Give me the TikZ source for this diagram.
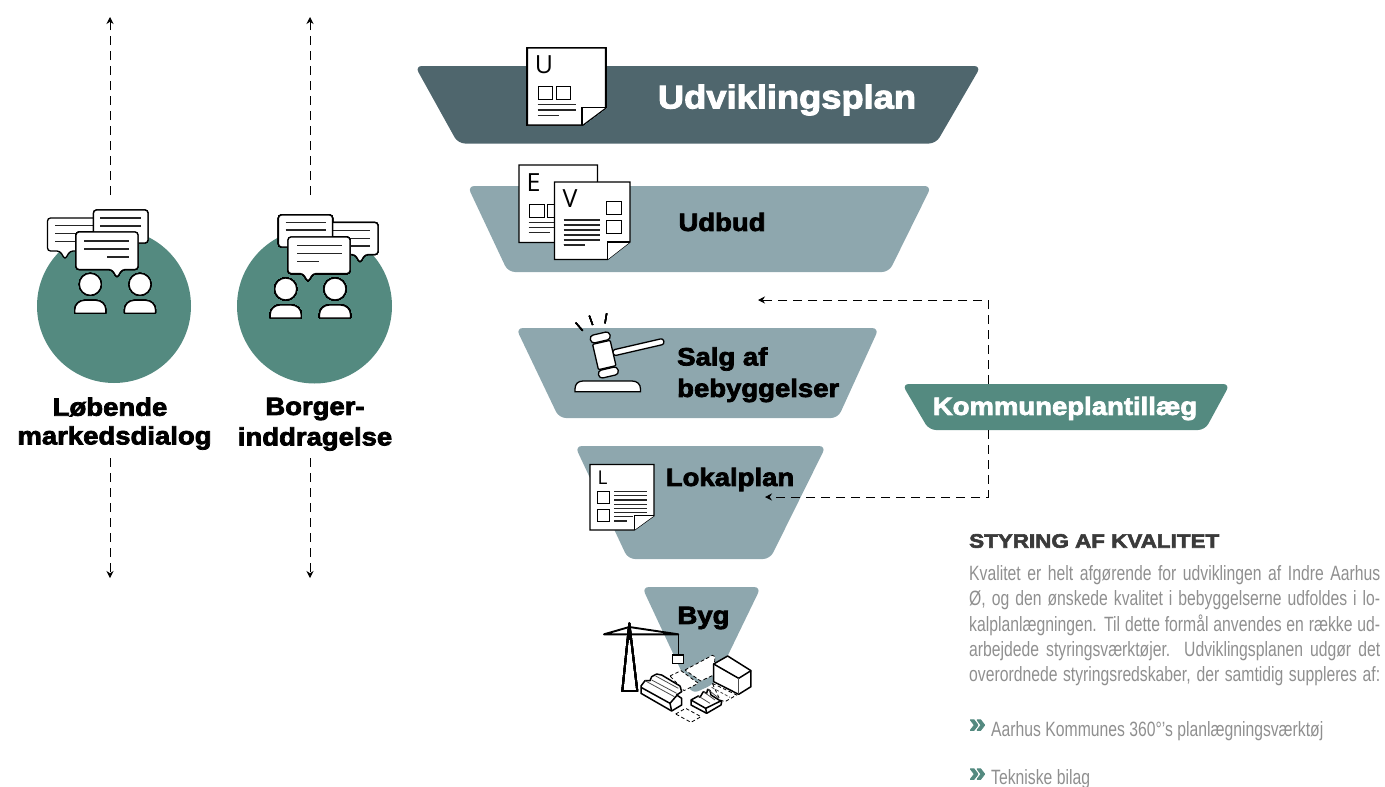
\documentclass[tikz,border=0pt]{standalone}
\usepackage{fontspec}
\usetikzlibrary{arrows.meta}
\setmainfont{Liberation Sans}
\newfontfamily\heavy[BoldFeatures={FakeBold=3,FakeStretch=1.1}]{Liberation Sans}
\newfontfamily\heavyw[BoldFeatures={FakeBold=3,FakeStretch=1.15}]{Liberation Sans}
\newfontfamily\narrowf[FakeStretch=0.76]{Liberation Sans}
\newfontfamily\docf{Open Sans}
\definecolor{darkslate}{HTML}{4F666D}
\definecolor{midslate}{HTML}{8EA7AE}
\definecolor{teal}{HTML}{548A80}
\definecolor{bodygrey}{HTML}{8F8F8F}
\definecolor{headgrey}{HTML}{3A3A3A}
\tikzset{
  funnel/.style={rounded corners=7pt,draw=none},
  label/.style={font=\heavy\bfseries\fontsize{25}{31}\selectfont,align=center,inner sep=0,text=black},
  bub/.style={draw=black,fill=white,line width=1.3pt,rounded corners=3pt},
  icon/.style={draw=black,fill=white,line width=1.3pt},
  iconline/.style={draw=black!85,line width=1.1pt},
  heavyline/.style={draw=black,line width=1.5pt,line join=round},
  thinline/.style={draw=black!70,line width=.8pt},
  link/.style={draw=black,line width=.8pt,dash pattern=on 9pt off 6pt,-{Stealth[length=7pt,width=7pt]}},
  parcel/.style={draw=black,fill=white,line width=.8pt,dash pattern=on 3.5pt off 2.5pt},
  docletter/.style={font=\docf,inner sep=0},
  bullet/.style={anchor=west,inner sep=0,text=teal,font=\heavy\bfseries\fontsize{27}{27}\selectfont},
  bodyline/.style={anchor=west,inner sep=0,text=bodygrey,font=\narrowf\fontsize{20.7}{24}\selectfont},
}
\newcommand\bubblebox[5]{\draw[bub] (#1,#2) -- (#3,#2) -- (#3,#4) -- ({#5+5},#4) -- ({#5},{#4+8.5}) -- ({#5-5},#4) -- (#1,#4) -- cycle;}
\newcommand\personicon[2]{\begin{scope}[shift={(#1,#2)}]
 \draw[icon] (0,0) circle (11);
 \draw[icon,rounded corners=.5pt] (-15.5,29) -- (-15.5,26) .. controls (-15.5,20) and (-11,16) .. (-5,16) -- (5,16) .. controls (11,16) and (15.5,20) .. (15.5,26) -- (15.5,29) -- cycle;
\end{scope}}
\newcommand\docicon[6]{\draw[icon] (#1,#2) -- (#3,#2) -- (#3,#6) -- (#5,#4) -- (#1,#4) -- cycle;
 \draw[icon] (#5,#4) -- (#5,#6) -- (#3,#6);}
\newcommand\hl[3]{\draw[iconline] (#1,#3) -- (#2,#3);}
\begin{document}
\begin{tikzpicture}[x=1pt,y=-1pt]
\useasboundingbox (0,0) rectangle (1385,787);
\clip (0,0) rectangle (1385,787);
% funnel shapes
\fill[funnel,darkslate] (415,66) -- (981,66) -- (936,143.5) -- (458,143.5) -- cycle;
\fill[funnel,midslate] (467.5,186) -- (931.5,186) -- (889,272) -- (508,272) -- cycle;
\fill[funnel,midslate] (516,328) -- (879,328) -- (838,418) -- (559,418) -- cycle;
\fill[funnel,midslate] (575,446) -- (826,446) -- (770,559) -- (628,559) -- cycle;
\fill[funnel,midslate] (642,587) -- (761,587) -- (714,684) -- (692,694) -- cycle;
\fill[funnel,teal] (902,384) -- (1230,384) -- (1205,430) -- (929,430) -- cycle;
% circles
\node[circle,fill=teal,minimum size=154pt,inner sep=0] (c1) at (114,306) {};
\node[circle,fill=teal,minimum size=155pt,inner sep=0] (c2) at (314.5,306) {};
% labels
\node[label] (lob) at (110,407) {Løbende};
\node[label] (mar) at (114.5,438) {markedsdialog};
\node[label] (bor) at (315,409) {Borger-};
\node[label] (ind) at (315,439) {inddragelse};
\node[label,text=white,font=\heavy\bfseries\fontsize{33}{36}\selectfont] (udv) at (787,100) {Udviklingsplan};
\node[label] (udb) at (722,222) {Udbud};
\node[label,anchor=west] (sal) at (677,359) {Salg af};
\node[label,anchor=west] (beb) at (677,390.5) {bebyggelser};
\node[label] (lok) at (730,479.5) {Lokalplan};
\node[label] (byg) at (703.5,618) {Byg};
\node[label,text=white] (kom) at (1065,408.5) {Kommuneplantillæg};
% vertical dashed arrows
\coordinate (a1t) at (110,195); \coordinate (a1e) at (110,17);
\coordinate (a1b) at (110,458); \coordinate (a1f) at (110,578);
\coordinate (a2t) at (310,195); \coordinate (a2e) at (310,17);
\coordinate (a2b) at (310,458); \coordinate (a2f) at (310,578);
\draw[link] (a1t) -- (a1e);
\draw[link] (a1b) -- (a1f);
\draw[link] (a2t) -- (a2e);
\draw[link] (a2b) -- (a2f);
% kommuneplan connectors
\coordinate (ku) at (988,384); \coordinate (kd) at (988,430);
\coordinate (sa) at (758,300); \coordinate (lo) at (765,497);
\draw[link] (ku) |- (sa);
\draw[link] (kd) |- (lo);
% left bubbles
\bubblebox{47.5}{218}{104}{251}{65}
\foreach \y in {225.5,233.5,241.5} \hl{55}{96}{\y}
\bubblebox{93.5}{210}{148}{243}{130}
\foreach \y in {218,226} \hl{100}{141}{\y}
\bubblebox{76}{232}{138}{269.5}{117}
\hl{84}{129}{241}\hl{84}{129}{249}\hl{107}{129}{257}
\personicon{90.3}{284.3}\personicon{140}{284.3}
% right bubbles
\bubblebox{326}{222.5}{378}{254.5}{360}
\foreach \y in {230.5,238.5,246} \hl{333}{370}{\y}
\bubblebox{278.5}{215}{332.5}{247}{296}
\foreach \y in {222.5,230} \hl{285.5}{325.5}{\y}
\bubblebox{288}{237}{350}{273.5}{308}
\hl{297}{342}{245.5}\hl{297}{342}{253.5}\hl{297}{319}{261.5}
\personicon{285.7}{289}\personicon{335}{289}
% U doc
\docicon{527.5}{48}{605.5}{125}{582}{107.5}
\node[docletter,font=\docf\fontsize{25}{25}\selectfont] (du) at (544,65) {U};
\draw[icon,fill=none,line width=1pt] (538,86) rectangle (552.5,99.5);
\draw[icon,fill=none,line width=1pt] (556,86) rectangle (570.5,99.5);
\hl{537.5}{575.5}{104.7}\hl{537.5}{575.5}{110}\hl{537.5}{559}{115.7}
% E doc
\docicon{519}{165}{597.5}{242.5}{574}{225}
\node[docletter,font=\docf\fontsize{25}{25}\selectfont] (de) at (533.5,183) {E};
\draw[icon,fill=none,line width=1pt] (529.5,204) rectangle (544,217.5);
\draw[icon,fill=none,line width=1pt] (547,204) rectangle (561,217.5);
\hl{528.5}{568}{222.7}\hl{528.5}{568}{227.7}\hl{528.5}{550}{232.7}
% V doc
\docicon{554.5}{182}{630}{259.5}{607.5}{242}
\node[docletter,font=\docf\fontsize{25}{25}\selectfont] (dv) at (570,198.5) {V};
\draw[icon,fill=none,line width=1pt] (606.5,201) rectangle (621.5,214.5);
\draw[icon,fill=none,line width=1pt] (606.5,220) rectangle (621.5,233.5);
\foreach \y in {220,225,230,235,240} \hl{563.5}{599.5}{\y}
\hl{563.5}{584.5}{245}
% gavel
\foreach \a/\b/\c/\d in {575.7/322.7/582.7/330.7,589.3/315.7/592.7/325,606.7/313.3/605/323.3}
  \draw[black,line width=1.4pt] (\a,\b) -- (\c,\d);
\begin{scope}[shift={(604.3,355)},rotate=13]
 \draw[icon,rounded corners=2.5pt] (9,-3) rectangle (61,3);
 \draw[icon,rounded corners=1pt] (-9,-13) rectangle (9,13);
 \draw[icon,rounded corners=3.5pt] (-10,-22) rectangle (10,-14);
 \draw[icon,rounded corners=3.5pt] (-10,14) rectangle (10,22);
\end{scope}
\draw[icon] (575,391.7) -- (575,389) .. controls (575,384) and (578,381) .. (583,381) -- (632,381) .. controls (637,381) and (640.5,384) .. (640.5,389) -- (640.5,391.7) -- cycle;
% L doc
\docicon{590}{464.5}{654}{530}{634.3}{515.7}
\node[docletter,font=\docf\fontsize{19}{19}\selectfont] (dl) at (602.5,478) {L};
\draw[icon,fill=none,line width=1pt] (597.3,491.7) rectangle (609.3,503.3);
\draw[icon,fill=none,line width=1pt] (597.3,509.3) rectangle (609.3,521);
\foreach \y in {491.7,495.8,500,504.2,508.3,512.6} \hl{614}{647.3}{\y}
\hl{614}{633}{516.8}\hl{614}{627}{521}
% crane
\draw[black,line width=1.9pt,line join=round] (629.3,623.3) -- (622.3,691) -- (637.3,691) -- cycle;
\draw[black,line width=1.3pt] (629.3,623.3) -- (629.3,640);
\draw[black,line width=1.9pt,line join=round] (604,634.3) -- (629.3,627) -- (678.3,634.3) -- cycle;
\draw[black,line width=1.5pt] (678.3,634.3) -- (678.3,655);
\draw[icon,line width=1.5pt] (672.3,655) rectangle (683.3,663.3);
% site: coordinates in thirds of a pixel from (635,650)
\begin{scope}[shift={(635,650)},x=.3333pt,y=-.3333pt]
\draw[parcel] (105,78) -- (138,62) -- (190,100) -- (147,122) -- cycle;
\draw[parcel] (150,60) -- (232,16) -- (240,20) -- (236,75) -- (197,93) -- cycle;
\draw[parcel] (232,100) -- (305,135) -- (270,155) -- (255,150) -- cycle;
\draw[thinline,dash pattern=on 3pt off 2pt] (230,112) -- (285,142);
\draw[parcel] (122,192) -- (152,175) -- (198,200) -- (168,217) -- cycle;
% big box
\draw[heavyline,fill=white] (236,42) -- (278,18) -- (348,62) -- (348,110) -- (311,133) -- (236,95) -- cycle;
\draw[heavyline] (236,42) -- (311,85) -- (348,62);
\draw[thinline] (311,85) -- (311,133);
% long building
\draw[heavyline,fill=white] (18,108) -- (30,92) -- (45,92) -- (50,80) -- (65,72) -- (80,75) -- (135,108) -- (140,125) -- (125,135) -- (140,145) -- (140,165) -- (110,183) -- (18,130) -- cycle;
\draw[heavyline] (18,112) -- (105,160) -- (125,137);
\draw[heavyline] (105,160) -- (110,183);
\draw[thinline] (30,92) -- (118,140);
\draw[thinline] (50,90) -- (125,130);
\draw[thinline] (62,78) -- (130,115);
% small building
\draw[heavyline,fill=white] (168,150) -- (190,138) -- (195,142) -- (205,125) -- (215,130) -- (218,118) -- (225,122) -- (228,135) -- (260,155) -- (258,165) -- (215,190) -- (168,165) -- cycle;
\draw[heavyline] (168,150) -- (212,175) -- (259,152);
\draw[heavyline] (212,175) -- (215,190);
\draw[thinline] (190,138) -- (225,160);
\draw[thinline] (205,125) -- (240,150);
\draw[thinline] (218,118) -- (252,145);
\end{scope}
% text
\node[anchor=west,inner sep=0,text=headgrey,font=\heavyw\bfseries\fontsize{19.5}{22}\selectfont] (hd) at (969,541) {STYRING AF KVALITET};
\node[anchor=north west,inner sep=0,text=bodygrey,align=left,font=\narrowf\fontsize{20.7}{25.4}\selectfont] (txt) at (969,565)
 {\makebox[411pt][s]{Kvalitet er helt afgørende for udviklingen af Indre Aarhus}\\
  \makebox[411pt][s]{Ø, og den ønskede kvalitet i bebyggelserne udfoldes i lo-}\\
  \makebox[411pt][s]{kalplanlægningen. Til dette formål anvendes en række ud-}\\
  \makebox[411pt][s]{arbejdede styringsværktøjer. Udviklingsplanen udgør det}\\
  \makebox[411pt][s]{overordnede styringsredskaber, der samtidig suppleres af:}};
\node[bullet] (b1) at (969,726) {»};
\node[bodyline] (t1) at (991,731) {Aarhus Kommunes 360°’s planlægningsværktøj};
\node[bullet] (b2) at (969,775) {»};
\node[bodyline] (t2) at (991,779.5) {Tekniske bilag};
\end{tikzpicture}
\end{document}
